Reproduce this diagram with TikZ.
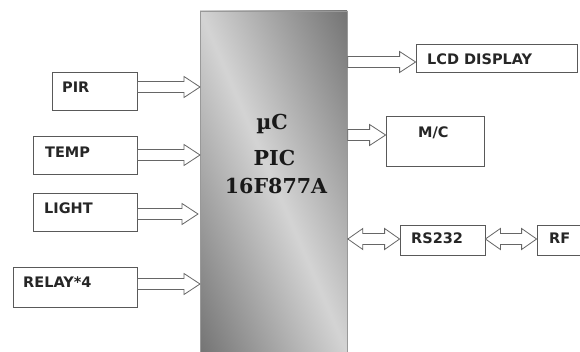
\documentclass[tikz,border=0pt]{standalone}
\usepackage{fontspec}
\setsansfont{DejaVu Sans}
\newfontfamily\chipfont{DejaVu Serif}
\usetikzlibrary{calc}
\begin{document}
\begin{tikzpicture}[x=1pt,y=-1pt,
  box/.style={draw=black!65, line width=0.8pt, fill=white, inner sep=0pt},
  lbl/.style={font=\sffamily\bfseries\fontsize{14.5}{16}\selectfont, text=black!85, inner sep=0pt, text height=10.5pt, text depth=0pt, anchor=west},
  chip/.style={font=\chipfont\bfseries\fontsize{20.6}{24}\selectfont, text=black!90, inner sep=0pt, text height=15pt, text depth=0pt},
  conn/.style={draw=black!60, line width=0.8pt, fill=white},
  rarrow/.style={to path={let \p1=(\tikztostart), \p2=(\tikztotarget) in
    (\x1,\y1+5.5pt) -- (\x2-16pt,\y1+5.5pt) -- (\x2-16pt,\y1+10.5pt) -- (\x2,\y1)
    -- (\x2-16pt,\y1-10.5pt) -- (\x2-16pt,\y1-5.5pt) -- (\x1,\y1-5.5pt) -- cycle}},
  darrow/.style={to path={let \p1=(\tikztostart), \p2=(\tikztotarget) in
    (\x1,\y1) -- (\x1+15pt,\y1+10.5pt) -- (\x1+15pt,\y1+5.5pt) -- (\x2-15pt,\y1+5.5pt)
    -- (\x2-15pt,\y1+10.5pt) -- (\x2,\y1) -- (\x2-15pt,\y1-10.5pt) -- (\x2-15pt,\y1-5.5pt)
    -- (\x1+15pt,\y1-5.5pt) -- (\x1+15pt,\y1-10.5pt) -- cycle}}
]
\useasboundingbox[fill=white] (0,0) rectangle (580,352);
\clip (0,0) rectangle (580,352);

% microcontroller shading
\begin{scope}
  \clip (200,11) rectangle (347,360);
  \begin{scope}[transform canvas={rotate around={-66.7:(273.5,182)}}]
    \shade[top color=black!56, bottom color=black!56, middle color=black!17] (53.5,42) rectangle (493.5,322);
  \end{scope}
\end{scope}
\node[draw=black!40, line width=0.8pt, minimum width=147pt, minimum height=349pt, inner sep=0pt, anchor=north west] (mcu) at (200,11) {};
\node[chip] (uc) at (272,122) {µC};
\node[chip] (pic) at (274.5,158.5) {PIC};
\node[chip] (part) at (276,186.5) {16F877A};

% input blocks
\node[box, minimum width=85pt, minimum height=38pt] (pir) at (94.5,91) {};
\node[lbl] (pirl) at (62,87) {PIR};
\node[box, minimum width=104pt, minimum height=38pt] (temp) at (85,155) {};
\node[lbl] (templ) at (45,152) {TEMP};
\node[box, minimum width=104pt, minimum height=38pt] (light) at (85,212) {};
\node[lbl] (lightl) at (44,208) {LIGHT};
\node[box, minimum width=124pt, minimum height=40pt] (relay) at (75,287) {};
\node[lbl] (relayl) at (23,282) {RELAY*4};

% output blocks
\node[box, minimum width=161pt, minimum height=28pt] (lcd) at (496.5,58) {};
\node[lbl] (lcdl) at (427,59.5) {LCD DISPLAY};
\node[box, minimum width=98pt, minimum height=50pt] (mc) at (435,141) {};
\node[lbl] (mcl) at (418,132) {M/C};
\node[box, minimum width=85pt, minimum height=30pt] (rs) at (442.5,240) {};
\node[lbl] (rsl) at (411,238.5) {RS232};
\node[box, minimum width=70pt, minimum height=30pt] (rf) at (572,240) {};
\node[lbl] (rfl) at (549,238.5) {RF};

% connectors
\draw[conn] ($(pir.east)+(0,-4)$) to[rarrow] (mcu.west |- pir.east);
\draw[conn] (temp.east) to[rarrow] (mcu.west |- temp.east);
\draw[conn] ($(light.east)+(0,2)$) to[rarrow] ($(mcu.west |- light.east)+(-2,0)$);
\draw[conn] ($(relay.east)+(0,-3)$) to[rarrow] (mcu.west |- relay.east);
\draw[conn] ($(mcu.east |- lcd.west)+(0,4)$) to[rarrow] (lcd.west);
\draw[conn] ($(mcu.east |- mc.west)+(0,-6)$) to[rarrow] (mc.west);
\draw[conn] ($(mcu.east |- rs.west)+(0,-1)$) to[darrow] (rs.west);
\draw[conn] ($(rs.east)+(0,-1)$) to[darrow] (rf.west);
\end{tikzpicture}
\end{document}
